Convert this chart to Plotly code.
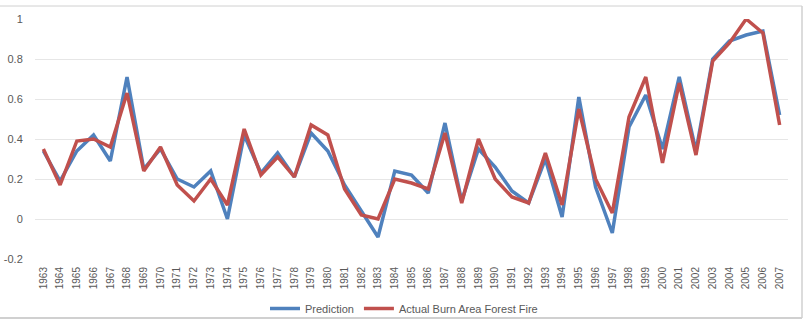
import plotly.graph_objects as go

years = [str(y) for y in range(1963, 2008)]
prediction = [0.34, 0.19, 0.34, 0.42, 0.29, 0.71, 0.25, 0.35, 0.20, 0.16,
              0.24, 0.00, 0.42, 0.23, 0.33, 0.21, 0.43, 0.34, 0.17, 0.04,
              -0.09, 0.24, 0.22, 0.13, 0.48, 0.09, 0.35, 0.26, 0.14, 0.08,
              0.30, 0.01, 0.61, 0.16, -0.07, 0.46, 0.62, 0.35, 0.71, 0.34,
              0.80, 0.89, 0.92, 0.94, 0.52]
actual = [0.35, 0.17, 0.39, 0.40, 0.36, 0.63, 0.24, 0.36, 0.17, 0.09,
          0.20, 0.07, 0.45, 0.22, 0.31, 0.21, 0.47, 0.42, 0.15, 0.02,
          0.00, 0.20, 0.18, 0.15, 0.43, 0.08, 0.40, 0.20, 0.11, 0.08,
          0.33, 0.07, 0.55, 0.20, 0.03, 0.51, 0.71, 0.28, 0.68, 0.32,
          0.79, 0.88, 1.00, 0.93, 0.47]
y_ticks = [-0.2, 0, 0.2, 0.4, 0.6, 0.8, 1]
y_tick_text = ["-0.2", "0", "0.2", "0.4", "0.6", "0.8", "1"]

FONT = "Liberation Sans Narrow, Liberation Sans, Arial, sans-serif"
TXT = "#595959"

fig = go.Figure()
fig.add_trace(go.Scatter(x=years, y=prediction, mode="lines", name="Prediction",
                         line=dict(color="#4F81BD", width=3.5)))
fig.add_trace(go.Scatter(x=years, y=actual, mode="lines", name="Actual Burn Area Forest Fire",
                         line=dict(color="#C0504D", width=3.5)))

W, H = 808, 324
L, R, T, B = 35, 20, 19, 65
pw, ph = W - L - R, H - T - B

def px_x(p):
    return (p - L) / pw

def px_y(p):
    return (H - B - p) / ph

fig.update_layout(
    width=W, height=H,
    margin=dict(l=L, r=R, t=T, b=B, autoexpand=False),
    paper_bgcolor="white", plot_bgcolor="white",
    font=dict(family=FONT, size=11, color=TXT),
    showlegend=True,
    legend=dict(orientation="h", x=0.5, xanchor="center", xref="container",
                y=1 - 294 / H, yanchor="top", yref="container",
                font=dict(family=FONT, size=11, color=TXT), bgcolor="rgba(0,0,0,0)",
                itemwidth=30, tracegroupgap=0),
    xaxis=dict(type="category", range=[-0.5, 44.5], tickangle=-90, automargin=False,
               showgrid=False, zeroline=False, showline=False,
               ticks="outside", ticklen=3, tickcolor="rgba(0,0,0,0)",
               tickfont=dict(family=FONT, size=10, color=TXT)),
    yaxis=dict(range=[-0.2, 1], tickvals=y_ticks, ticktext=y_tick_text, automargin=False,
               showgrid=True, gridcolor="#e6e6e6", gridwidth=1,
               zeroline=False, showline=False,
               ticks="outside", ticklen=9, tickcolor="rgba(0,0,0,0)",
               tickfont=dict(family=FONT, size=11, color=TXT)),
)

border = "#d0d0d0"
# top, right, bottom border lines of the chart frame
fig.add_shape(type="line", xref="paper", yref="paper",
              x0=px_x(0), x1=px_x(802), y0=px_y(6), y1=px_y(6),
              line=dict(color=border, width=1))
fig.add_shape(type="line", xref="paper", yref="paper",
              x0=px_x(802), x1=px_x(802), y0=px_y(6), y1=px_y(318),
              line=dict(color=border, width=1.5))
fig.add_shape(type="line", xref="paper", yref="paper",
              x0=px_x(0), x1=px_x(802), y0=px_y(318), y1=px_y(318),
              line=dict(color=border, width=2))

fig.write_html("out.html")
